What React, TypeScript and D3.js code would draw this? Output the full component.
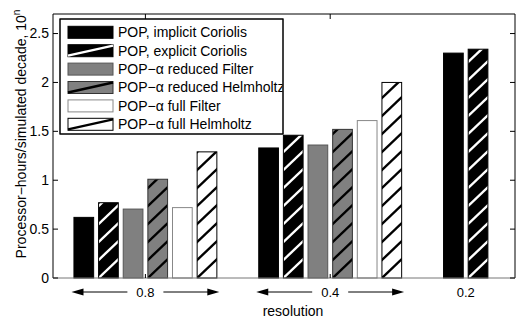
import React from "react";
import * as d3 from "d3";

const resolutions = ["0.8", "0.4", "0.2"];
const seriesNames = [
  "POP, implicit Coriolis",
  "POP, explicit Coriolis",
  "POP\u2212\u03b1 reduced Filter",
  "POP\u2212\u03b1 reduced Helmholtz",
  "POP\u2212\u03b1 full Filter",
  "POP\u2212\u03b1 full Helmholtz",
];
const implicitCoriolis = [0.62, 1.33, 2.3];
const explicitCoriolis = [0.77, 1.46, 2.34];
const reducedFilter = [0.705, 1.36, 0];
const reducedHelmholtz = [1.01, 1.52, 0];
const fullFilter = [0.72, 1.61, 0];
const fullHelmholtz = [1.29, 2.0, 0];
const yTicks = [0, 0.5, 1, 1.5, 2, 2.5];

const seriesValues = [implicitCoriolis, explicitCoriolis, reducedFilter, reducedHelmholtz, fullFilter, fullHelmholtz];
const seriesStyle = [
  { fill: "#000", stroke: "#000", hatch: null },
  { fill: "#000", stroke: "#000", hatch: "#fff" },
  { fill: "#808080", stroke: "#555", hatch: null },
  { fill: "#808080", stroke: "#333", hatch: "#000" },
  { fill: "#fff", stroke: "#888", hatch: null },
  { fill: "#fff", stroke: "#000", hatch: "#000" },
];

const W = 525, H = 318;
const L = 53, R = 515, T = 14, B = 278;
const FONT = "'Liberation Sans', Arial, Helvetica, sans-serif";

export default function App() {
  const x = d3.scaleLinear().domain([0.5, 3]).range([L, R]);
  const y = d3.scaleLinear().domain([0, 2.7]).range([B, T]);
  const n = seriesValues.length;
  const groupW = 0.8;
  const step = groupW / n;
  const barW = step * 0.8;

  const bars: any[] = [];
  seriesValues.forEach((vals, si) => {
    vals.forEach((v, gi) => {
      const c = gi + 1 - groupW / 2 + (si + 0.5) * step;
      const x0 = x(c - barW / 2);
      const x1 = x(c + barW / 2);
      const y0 = y(v);
      bars.push({ si, gi, x0, x1, y0, yb: y(0), v });
    });
  });

  const sp = 18;
  const slope = 0.95;

  return (
    <svg width={W} height={H} style={{ position: "absolute", left: 0, top: 0, background: "#fff" }} fontFamily={FONT}>
      <defs>
        <clipPath id="plotclip">
          <rect x={L} y={T} width={R - L} height={B - T + 1} />
        </clipPath>
        <clipPath id="legclip">
          <rect x={60} y={19} width={222.5} height={115} />
        </clipPath>
        {bars.map((b, i) => (
          <clipPath id={`bc${i}`} key={i}>
            <rect x={b.x0} y={b.y0} width={b.x1 - b.x0} height={b.yb - b.y0} />
          </clipPath>
        ))}
      </defs>
      <rect x={0} y={0} width={W} height={H} fill="#fff" />
      <g clipPath="url(#plotclip)">
        {bars.map((b, i) => {
          const st = seriesStyle[b.si];
          const w = b.x1 - b.x0;
          const h = b.yb - b.y0;
          const lines: any[] = [];
          if (st.hatch && h > 0) {
            const kmax = Math.ceil((h + w) / sp) + 1;
            for (let k = 0; k <= kmax; k++) {
              const ys = b.yb - k * sp;
              lines.push(
                <line key={k} x1={b.x0 - 2} y1={ys + 2 * slope} x2={b.x1 + 2} y2={ys - (w + 2) * slope}
                  stroke={st.hatch} strokeWidth={2.4} />
              );
            }
          }
          return (
            <g key={i}>
              <rect x={b.x0} y={b.y0} width={w} height={h} fill={st.fill} />
              <g clipPath={`url(#bc${i})`}>{lines}</g>
              <rect x={b.x0} y={b.y0} width={w} height={h} fill="none" stroke={st.stroke} strokeWidth={1} />
            </g>
          );
        })}
      </g>
      {/* axes box */}
      <line x1={L} y1={T} x2={R} y2={T} stroke="#000" />
      <line x1={L} y1={T} x2={L} y2={B} stroke="#000" />
      <line x1={R} y1={T} x2={R} y2={B} stroke="#000" />
      <line x1={L} y1={B} x2={R} y2={B} stroke="#777" />
      {yTicks.map((t) => (
        <g key={t}>
          <line x1={L} x2={L + 5} y1={y(t)} y2={y(t)} stroke="#000" />
          <line x1={R} x2={R - 5} y1={y(t)} y2={y(t)} stroke="#000" />
          <text x={L - 4} y={y(t)} dy="0.35em" textAnchor="end" fontSize={14}>{t}</text>
        </g>
      ))}
      {[1, 2].map((g) => (
        <g key={g}>
          <line x1={x(g)} x2={x(g)} y1={T} y2={T + 5} stroke="#000" />
          <line x1={x(g)} x2={x(g)} y1={B} y2={B - 4} stroke="#000" />
        </g>
      ))}
      {/* resolution labels with arrows */}
      {resolutions.map((r, gi) => {
        const cx = gi < 2 ? x(gi + 1) : (x(3 - groupW / 2 + 0.5 * step) + x(3 - groupW / 2 + 1.5 * step)) / 2;
        const yy = 292;
        const txt = <text key="t" x={cx} y={yy} dy="0.35em" textAnchor="middle" fontSize={13}>{r}</text>;
        if (gi === 2) return <g key={gi}>{txt}</g>;
        const left = x(gi + 1 - groupW / 2);
        const right = x(gi + 1 + groupW / 2);
        return (
          <g key={gi}>
            {txt}
            <line x1={left + 8} x2={cx - 18} y1={yy} y2={yy} stroke="#000" />
            <line x1={cx + 18} x2={right - 8} y1={yy} y2={yy} stroke="#000" />
            <path d={`M${left},${yy} L${left + 12},${yy - 3.5} L${left + 12},${yy + 3.5} Z`} fill="#000" />
            <path d={`M${right},${yy} L${right - 12},${yy - 3.5} L${right - 12},${yy + 3.5} Z`} fill="#000" />
          </g>
        );
      })}
      <text x={293} y={311} dy="0.35em" textAnchor="middle" fontSize={14}>resolution</text>
      <text transform={`translate(26,${134}) rotate(-90)`} textAnchor="middle" fontSize={14}>
        Processor{"\u2212"}hours/simulated decade, 10<tspan dy={-6} fontSize={10}>n</tspan>
      </text>
      {/* legend */}
      <rect x={60} y={19} width={223} height={115} fill="#fff" stroke="#000" />
      <g clipPath="url(#legclip)">
        {seriesNames.map((name, i) => {
          const st = seriesStyle[i];
          const cy = 32.3 + i * 18.4;
          const sx = 68, sw = 45, sh = 12;
          return (
            <g key={i}>
              <rect x={sx} y={cy - sh / 2} width={sw} height={sh} fill={st.fill} stroke={st.stroke} />
              {st.hatch && (
                <line x1={sx} y1={cy + sh / 2 - 1} x2={sx + sw} y2={cy - sh / 2 + 1} stroke={st.hatch} strokeWidth={2.4} />
              )}
              <text x={118} y={cy} dy="0.35em" fontSize={14}>{name}</text>
            </g>
          );
        })}
      </g>
      <rect x={60} y={19} width={223} height={115} fill="none" stroke="#000" />
    </svg>
  );
}
